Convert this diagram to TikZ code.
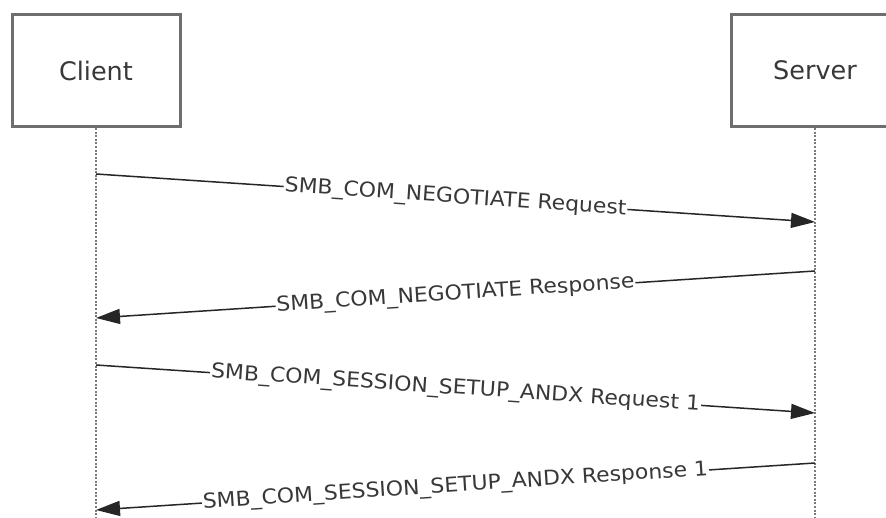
\documentclass[tikz,border=0pt]{standalone}
\usepackage{fontspec}
\setmainfont{DejaVu Sans}
\newfontfamily\lblfont{DejaVu Sans}[FakeStretch=1.07]
\usetikzlibrary{arrows.meta}
\definecolor{boxgray}{HTML}{6E6E6E}
\definecolor{txtgray}{HTML}{383838}
\definecolor{lifegray}{HTML}{7A7A7A}
\tikzset{
  actor/.style={draw=boxgray, line width=3pt, fill=white, minimum width=168pt, minimum height=112pt, inner sep=0pt, text=txtgray, font=\fontsize{25.5}{30}\selectfont},
  lifeline/.style={draw=lifegray, line width=2.4pt, dash pattern=on 2pt off 1.6pt},
  msg/.style={draw=black!85, line width=1.5pt, -{Triangle[length=24pt,width=15pt]}},
  msglabel/.style={midway, sloped, fill=white, inner sep=1pt, text=txtgray, font=\lblfont\fontsize{20.5}{24}\selectfont}
}
\begin{document}
\begin{tikzpicture}[x=1pt,y=-1pt]
\useasboundingbox (0,0) rectangle (886,518);
\clip (0,0) rectangle (886,518);
\node[actor] (client) at (96,70.5) {Client};
\node[actor] (server) at (815,70.5) {Server};
\coordinate (cbot) at (96,518);
\coordinate (sbot) at (815,518);
\draw[lifeline] (client.south) -- (cbot);
\draw[lifeline] (server.south) -- (sbot);
\coordinate (c1) at (96,174);
\coordinate (s1) at (815,222);
\coordinate (s2) at (815,271);
\coordinate (c2) at (96,318);
\coordinate (c3) at (96,365);
\coordinate (s3) at (815,413);
\coordinate (s4) at (815,463);
\coordinate (c4) at (96,510);
\draw[msg] (c1) -- node[msglabel] (l1) {SMB\_COM\_NEGOTIATE Request} (s1);
\draw[msg] (s2) -- node[msglabel] (l2) {SMB\_COM\_NEGOTIATE Response} (c2);
\draw[msg] (c3) -- node[msglabel] (l3) {SMB\_COM\_SESSION\_SETUP\_ANDX Request 1} (s3);
\draw[msg] (s4) -- node[msglabel] (l4) {SMB\_COM\_SESSION\_SETUP\_ANDX Response 1} (c4);
\end{tikzpicture}
\end{document}
